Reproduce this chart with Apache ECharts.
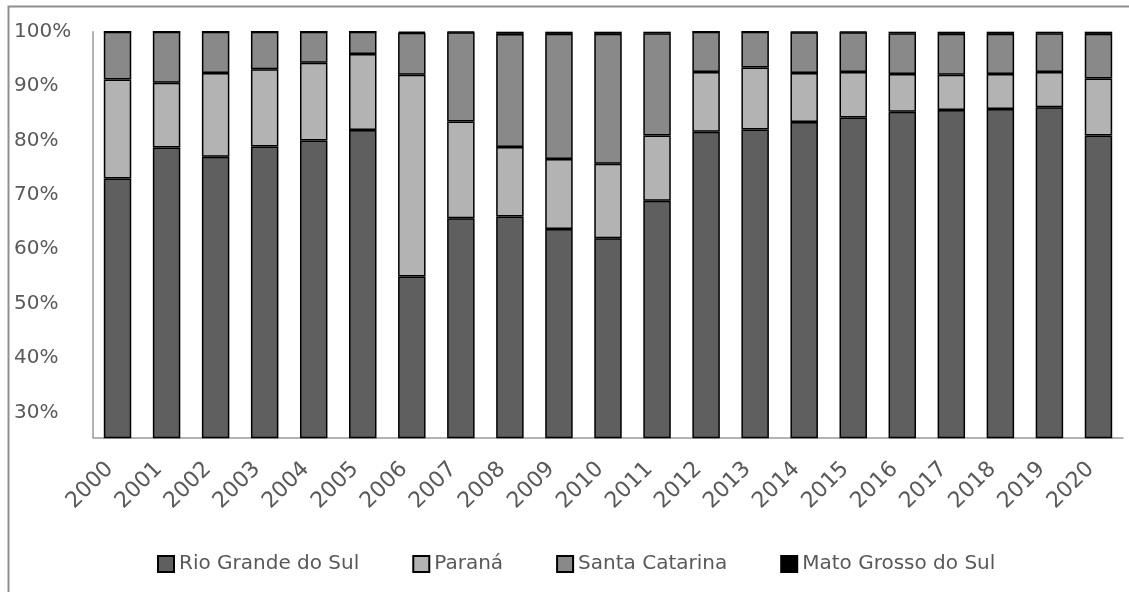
<!DOCTYPE html>
<html>
<head>
<meta charset="utf-8">
<script src="https://cdn.jsdelivr.net/npm/echarts@6/dist/echarts.min.js"></script>
<style>
  html, body { margin: 0; padding: 0; background: #ffffff; }
  #chart { width: 1129px; height: 592px; }
</style>
</head>
<body>
<div id="chart"></div>
<script>
// Share of each state per year (%), stacked to 100%
const years = ['2000','2001','2002','2003','2004','2005','2006','2007','2008','2009','2010',
               '2011','2012','2013','2014','2015','2016','2017','2018','2019','2020'];
const rioGrandeDoSul = [73.0, 78.7, 77.0, 78.9, 80.0, 81.9, 55.0, 65.7, 66.0, 63.7, 62.0,
                        68.9, 81.6, 82.0, 83.4, 84.2, 85.3, 85.6, 85.8, 86.1, 80.9];
const parana         = [18.2, 11.9, 15.4, 14.2, 14.3, 14.0, 37.1, 17.8, 12.8, 12.9, 13.7,
                        12.0, 11.0, 11.4, 9.0, 8.4, 6.9, 6.5, 6.4, 6.5, 10.5];
const santaCatarina  = [8.8, 9.4, 7.6, 6.9, 5.7, 4.1, 7.7, 16.4, 20.8, 23.0, 23.9,
                        18.8, 7.4, 6.6, 7.5, 7.3, 7.5, 7.5, 7.4, 7.1, 8.2];
const matoGrossoDoSul = [0.0, 0.0, 0.0, 0.0, 0.0, 0.0, 0.2, 0.1, 0.4, 0.4, 0.4,
                         0.3, 0.0, 0.0, 0.1, 0.1, 0.3, 0.4, 0.4, 0.3, 0.4];
const yTicks = [30, 40, 50, 60, 70, 80, 90, 100];

const seriesNames = ['Rio Grande do Sul', 'Paraná', 'Santa Catarina', 'Mato Grosso do Sul'];
const seriesValues = [rioGrandeDoSul, parana, santaCatarina, matoGrossoDoSul];
const seriesColors = ['#5f5f5f', '#b3b3b3', '#898989', '#000000'];

const textColor = '#595959';
const fontFamily = 'DejaVu Sans';

const chart = echarts.init(document.getElementById('chart'), null, { renderer: 'canvas' });

chart.setOption({
  animation: false,
  backgroundColor: '#ffffff',
  textStyle: { fontFamily: fontFamily },
  graphic: [{
    type: 'polyline',
    shape: { points: [[8.5, 592], [8.5, 6.5], [1129, 6.5]] },
    style: { stroke: '#8f8f8f', lineWidth: 2, fill: null },
    silent: true
  }],
  grid: {
    left: 93, right: 6, top: 31.7, bottom: 154.5
  },
  legend: {
    data: seriesNames,
    left: 152,
    top: 549,
    itemWidth: 16,
    itemHeight: 16,
    itemGap: 53,
    icon: 'rect',
    textStyle: { color: textColor, fontSize: 20, fontFamily: fontFamily }
  },
  xAxis: {
    type: 'category',
    data: years,
    axisLine: { show: true, lineStyle: { color: '#9a9a9a', width: 1.5 } },
    axisTick: { show: false },
    axisLabel: {
      rotate: 45,
      margin: 36,
      verticalAlign: 'bottom',
      color: textColor,
      fontSize: 22,
      fontFamily: fontFamily,
      interval: 0
    },
    splitLine: { show: false }
  },
  yAxis: {
    type: 'value',
    min: 25.37,
    max: 100,
    axisLine: { show: true, lineStyle: { color: '#9a9a9a', width: 1.5 } },
    axisTick: { show: false },
    splitLine: { show: false },
    axisLabel: {
      customValues: yTicks,
      formatter: v => Math.round(v) + '%',
      align: 'left',
      margin: 79,
      color: textColor,
      fontSize: 20,
      fontFamily: fontFamily
    }
  },
  series: seriesNames.map((name, i) => ({
    name: name,
    type: 'bar',
    stack: 'share',
    barCategoryGap: '44%',
    data: seriesValues[i],
    itemStyle: { color: seriesColors[i], borderColor: '#000000', borderWidth: 1.5 },
    emphasis: { disabled: true }
  }))
});
</script>
</body>
</html>
